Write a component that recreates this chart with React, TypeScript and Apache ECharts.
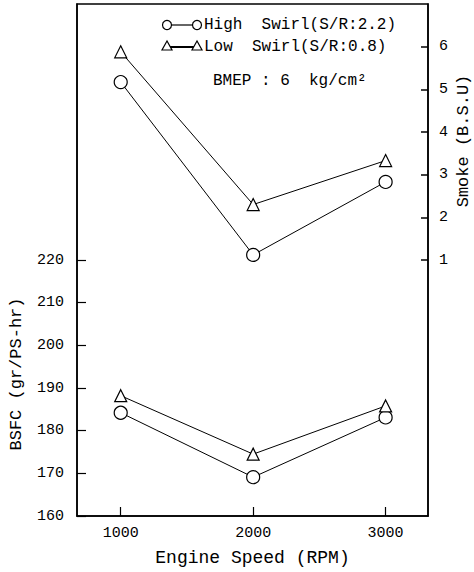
import React, { useEffect, useRef } from "react";
import * as echarts from "echarts";

const speeds = [1000, 2000, 3000];
const bsfcHigh = [184.2, 169.1, 183.1];
const bsfcLow = [188.2, 174.5, 185.8];
const smokeHigh = [5.17, 1.12, 2.83];
const smokeLow = [5.88, 2.3, 3.33];
const bsfcTicks = [160, 170, 180, 190, 200, 210, 220];
const smokeTicks = [1, 2, 3, 4, 5, 6];
const legendHigh = "High  Swirl(S/R:2.2)";
const legendLow = "Low  Swirl(S/R:0.8)";
const noteText = "BMEP : 6  kg/cm²";

const FONT = "Liberation Mono";

export default function App() {
  const ref = useRef<HTMLDivElement>(null);
  useEffect(() => {
    if (!ref.current) return;
    const chart = echarts.init(ref.current, null, { renderer: "svg" });
    const pair = (ys: number[]) => speeds.map((x, i) => [x, ys[i]]);
    const lineStyle = { color: "#000", width: 1 };
    const circleItem = { color: "#fff", borderColor: "#000", borderWidth: 1.2 };
    const tri = (cx: number, cy: number) => ({
      type: "polygon",
      shape: { points: [[cx, cy - 5], [cx - 5, cy + 4], [cx + 5, cy + 4]] },
      style: { fill: "#fff", stroke: "#000", lineWidth: 1.2 },
      z: 10,
    });
    const circ = (cx: number, cy: number) => ({
      type: "circle",
      shape: { cx, cy, r: 4.5 },
      style: { fill: "#fff", stroke: "#000", lineWidth: 1.2 },
      z: 10,
    });
    const label = { color: "#000", fontFamily: FONT, fontSize: 15 };
    chart.setOption({
      animation: false,
      backgroundColor: "#fff",
      grid: {
        left: 77,
        right: 46,
        top: 4,
        bottom: 52,
        show: true,
        borderColor: "#000",
        borderWidth: 1.5,
      },
      xAxis: {
        type: "value",
        min: 670,
        max: 3320,
        axisLine: { show: true, onZero: false, lineStyle: { color: "#000", width: 1.5 } },
        axisTick: { show: true, inside: true, length: 9, customValues: speeds, lineStyle: { color: "#000", width: 1.2 } },
        axisLabel: { ...label, margin: 10, customValues: speeds, formatter: (v: number) => String(v) },
        splitLine: { show: false },
        name: "Engine Speed (RPM)",
        nameLocation: "middle",
        nameGap: 33,
        nameTextStyle: { color: "#000", fontFamily: FONT, fontSize: 18 },
      },
      yAxis: [
        {
          type: "value",
          min: 160,
          max: 280,
          interval: 10,
          position: "left",
          axisLine: { show: true, onZero: false, lineStyle: { color: "#000", width: 1.5 } },
          axisTick: { show: true, inside: true, length: 9, customValues: bsfcTicks, lineStyle: { color: "#000", width: 1.2 } },
          axisLabel: { ...label, margin: 13, customValues: bsfcTicks },
          splitLine: { show: false },
        },
        {
          type: "value",
          min: -5,
          max: 7,
          interval: 1,
          position: "right",
          axisLine: { show: true, onZero: false, lineStyle: { color: "#000", width: 1.5 } },
          axisTick: { show: true, inside: true, length: 7, customValues: smokeTicks, lineStyle: { color: "#000", width: 1.5 } },
          axisLabel: { ...label, margin: 11, customValues: smokeTicks },
          splitLine: { show: false },
        },
      ],
      series: [
        {
          type: "line",
          yAxisIndex: 1,
          data: pair(smokeHigh),
          symbol: "circle",
          symbolSize: 13,
          lineStyle,
          itemStyle: circleItem,
        },
        {
          type: "line",
          yAxisIndex: 1,
          data: pair(smokeLow),
          symbol: "triangle",
          symbolSize: 12,
          lineStyle,
          itemStyle: circleItem,
        },
        {
          type: "line",
          yAxisIndex: 0,
          data: pair(bsfcHigh),
          symbol: "circle",
          symbolSize: 13,
          lineStyle,
          itemStyle: circleItem,
        },
        {
          type: "line",
          yAxisIndex: 0,
          data: pair(bsfcLow),
          symbol: "triangle",
          symbolSize: 12,
          lineStyle,
          itemStyle: circleItem,
        },
      ],
      graphic: [
        {
          type: "line",
          shape: { x1: 167, y1: 25, x2: 197, y2: 25 },
          style: { stroke: "#000", lineWidth: 1.2 },
        },
        circ(167, 25),
        circ(197, 25),
        {
          type: "line",
          shape: { x1: 167, y1: 47, x2: 197, y2: 47 },
          style: { stroke: "#000", lineWidth: 2 },
        },
        tri(167, 46),
        tri(197, 46),
        {
          type: "text",
          x: 204,
          y: 25,
          style: { text: legendHigh, font: `16px "${FONT}"`, fill: "#000", verticalAlign: "middle" },
        },
        {
          type: "text",
          x: 204,
          y: 47,
          style: { text: legendLow, font: `16px "${FONT}"`, fill: "#000", verticalAlign: "middle" },
        },
        {
          type: "text",
          x: 213,
          y: 81,
          style: { text: noteText, font: `16px "${FONT}"`, fill: "#000", verticalAlign: "middle" },
        },
        {
          type: "text",
          x: 16,
          y: 374,
          rotation: Math.PI / 2,
          style: {
            text: "BSFC (gr/PS-hr)",
            font: `17px "${FONT}"`,
            fill: "#000",
            align: "center",
            verticalAlign: "middle",
          },
        },
        {
          type: "text",
          x: 463,
          y: 141,
          rotation: Math.PI / 2,
          style: {
            text: "Smoke (B.S.U)",
            font: `17px "${FONT}"`,
            fill: "#000",
            align: "center",
            verticalAlign: "middle",
          },
        },
      ],
    });
    return () => chart.dispose();
  }, []);
  return (
    <div
      ref={ref}
      style={{ position: "absolute", left: 0, top: 0, width: 474, height: 572, background: "#fff" }}
    />
  );
}
